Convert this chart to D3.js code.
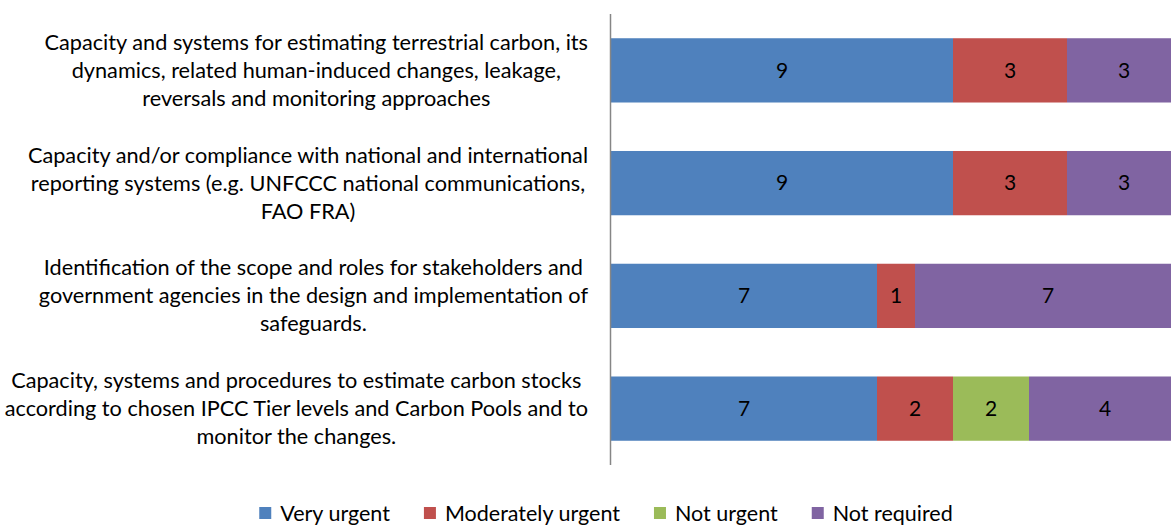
<!DOCTYPE html>
<meta charset="utf-8">
<script src="https://d3js.org/d3.v7.min.js"></script>
<style>
body { margin: 0; background: #fff; }
text { font-family: Lato, "Open Sans", sans-serif; }
</style>
<div id="my_dataviz"></div>
<script>

// categories, top to bottom
var categories = [
  ["Capacity and systems for estimating terrestrial carbon, its",
   "dynamics, related human-induced changes, leakage,",
   "reversals and monitoring approaches"],
  ["Capacity and/or compliance with national and international",
   "reporting systems (e.g. UNFCCC national communications,",
   "FAO FRA)"],
  ["Identification of the scope and roles for stakeholders and",
   "government agencies in the design and implementation of",
   "safeguards."],
  ["Capacity, systems and procedures to estimate carbon stocks",
   "according to chosen IPCC Tier levels and Carbon Pools and to",
   "monitor the changes."]
];

var seriesNames = ["Very urgent", "Moderately urgent", "Not urgent", "Not required"];
var veryUrgent = [9, 9, 7, 7];
var moderatelyUrgent = [3, 3, 1, 2];
var notUrgent = [0, 0, 0, 2];
var notRequired = [3, 3, 7, 4];
var colors = ["#4F81BD", "#C0504D", "#9BBB59", "#8064A2"];

var width = 1171, height = 527;

var svg = d3.select("#my_dataviz")
  .append("svg")
    .attr("width", width)
    .attr("height", height);

// build rows for the stack
var rows = categories.map(function(c, i) {
  return {
    idx: i,
    "Very urgent": veryUrgent[i],
    "Moderately urgent": moderatelyUrgent[i],
    "Not urgent": notUrgent[i],
    "Not required": notRequired[i]
  };
});

var stacked = d3.stack().keys(seriesNames)(rows);

// scales
var x = d3.scaleLinear()
  .domain([0, 15])
  .range([611, 1181]);

var y = d3.scaleBand()
  .domain(d3.range(categories.length))
  .range([14, 465])
  .paddingInner(0.43)
  .paddingOuter(0.215);

var color = d3.scaleOrdinal()
  .domain(seriesNames)
  .range(colors);

// bars
var layer = svg.append("g")
  .selectAll("g")
  .data(stacked)
  .enter()
  .append("g")
    .style("fill", function(d) { return color(d.key); });

layer.selectAll("rect")
  .data(function(d) { return d; })
  .enter()
  .append("rect")
    .attr("x", function(d) { return x(d[0]); })
    .attr("y", function(d) { return y(d.data.idx); })
    .attr("width", function(d) { return x(d[1]) - x(d[0]); })
    .attr("height", y.bandwidth());

// value labels
layer.selectAll("text")
  .data(function(d) { return d.filter(function(s) { return s[1] - s[0] > 0; }); })
  .enter()
  .append("text")
    .attr("x", function(d) { return (x(d[0]) + x(d[1])) / 2; })
    .attr("y", function(d) { return y(d.data.idx) + y.bandwidth() / 2; })
    .attr("dy", "0.35em")
    .attr("text-anchor", "middle")
    .style("fill", "#000")
    .style("font-size", "21px")
    .text(function(d) { return d[1] - d[0]; });

// vertical axis line
svg.append("line")
  .attr("x1", 610.5).attr("x2", 610.5)
  .attr("y1", 14).attr("y2", 465)
  .style("stroke", "#868686")
  .style("stroke-width", 1.5);

// category labels: block centred on its widest line, right edge at 588
var lineH = 28;
categories.forEach(function(lines, i) {
  var g = svg.append("g");
  var cy = y(i) + y.bandwidth() / 2;
  var texts = lines.map(function(l, j) {
    return g.append("text")
      .attr("y", cy + (j - (lines.length - 1) / 2) * lineH)
      .attr("dy", "0.35em")
      .attr("text-anchor", "middle")
      .style("font-size", "21.7px")
      .style("fill", "#000")
      .text(l);
  });
  var w = d3.max(texts, function(t) { return t.node().getComputedTextLength(); });
  texts.forEach(function(t) { t.attr("x", 588 - w / 2); });
});

// legend
var legend = svg.append("g");
var lx = 0;
seriesNames.forEach(function(name, i) {
  legend.append("rect")
    .attr("x", lx).attr("y", 507)
    .attr("width", 12).attr("height", 12)
    .style("fill", colors[i]);
  var t = legend.append("text")
    .attr("x", lx + 21).attr("y", 513)
    .attr("dy", "0.35em")
    .style("font-size", "21.5px")
    .style("fill", "#000")
    .text(name);
  lx += 21 + t.node().getComputedTextLength() + 34;
});
var totalW = lx - 34;
legend.attr("transform", "translate(" + (606 - totalW / 2) + ",0)");

</script>
